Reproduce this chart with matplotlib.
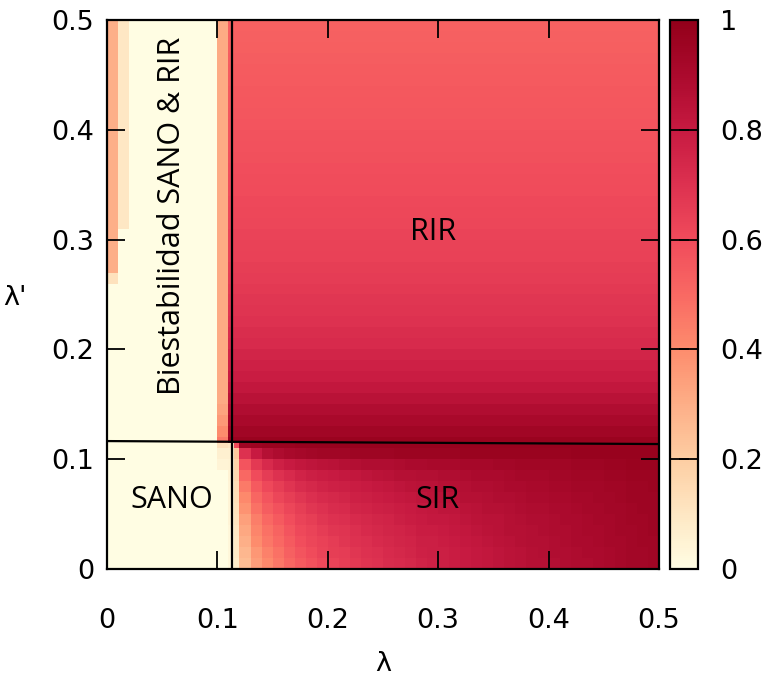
import numpy as np
import matplotlib
matplotlib.use("Agg")
import matplotlib.pyplot as plt
from matplotlib.colors import LinearSegmentedColormap

# --- rejilla de celdas (lambda, lambda') ---
x_edges = np.r_[np.arange(0, 12) * 0.01, 0.115, np.arange(12, 51) * 0.01]
y_edges = np.r_[np.arange(0, 12) * 0.01, 0.115, np.arange(12, 51) * 0.01]

# fondo SANO
sano_level = 0.0

# RIR: valor por fila (lambda' de 0.115 a 0.49), igual para toda lambda > 0.11
rir_by_row = [0.97, 0.94, 0.91, 0.88, 0.85, 0.82, 0.79, 0.77, 0.75, 0.73,
              0.715, 0.70, 0.69, 0.68, 0.67, 0.66, 0.65, 0.64, 0.635, 0.63,
              0.62, 0.615, 0.61, 0.60, 0.595, 0.59, 0.585, 0.58, 0.575, 0.57,
              0.565, 0.56, 0.555, 0.55, 0.545, 0.54, 0.535, 0.53, 0.525]

# SIR: filas lambda' = 0.00 ... 0.11 ; columnas lambda = 0.11, 0.115, 0.12 ... 0.49
sir_grid = [
    [0.03, 0.08, 0.25, 0.35, 0.41, 0.46, 0.51, 0.55, 0.58, 0.61, 0.63, 0.65, 0.67, 0.69, 0.70, 0.72, 0.73, 0.74, 0.76, 0.77,
     0.78, 0.79, 0.80, 0.81, 0.82, 0.83, 0.84, 0.85, 0.86, 0.86, 0.87, 0.88, 0.89, 0.89, 0.90, 0.91, 0.92, 0.93, 0.93, 0.94],
    [0.03, 0.09, 0.27, 0.37, 0.43, 0.48, 0.53, 0.57, 0.60, 0.63, 0.65, 0.66, 0.68, 0.70, 0.71, 0.73, 0.74, 0.75, 0.77, 0.78,
     0.78, 0.79, 0.80, 0.81, 0.82, 0.83, 0.84, 0.85, 0.86, 0.87, 0.88, 0.88, 0.89, 0.90, 0.90, 0.91, 0.92, 0.93, 0.93, 0.94],
    [0.03, 0.09, 0.30, 0.40, 0.46, 0.50, 0.55, 0.59, 0.62, 0.64, 0.66, 0.68, 0.70, 0.71, 0.73, 0.74, 0.75, 0.76, 0.78, 0.78,
     0.79, 0.80, 0.81, 0.82, 0.83, 0.84, 0.85, 0.86, 0.87, 0.87, 0.88, 0.89, 0.90, 0.90, 0.91, 0.92, 0.92, 0.93, 0.94, 0.94],
    [0.03, 0.10, 0.32, 0.42, 0.48, 0.52, 0.57, 0.61, 0.63, 0.66, 0.68, 0.69, 0.71, 0.73, 0.74, 0.75, 0.76, 0.77, 0.79, 0.79,
     0.80, 0.81, 0.82, 0.83, 0.84, 0.85, 0.86, 0.86, 0.87, 0.88, 0.89, 0.89, 0.90, 0.91, 0.91, 0.92, 0.93, 0.93, 0.94, 0.95],
    [0.04, 0.11, 0.34, 0.44, 0.50, 0.55, 0.59, 0.63, 0.65, 0.68, 0.70, 0.71, 0.73, 0.74, 0.75, 0.76, 0.78, 0.79, 0.80, 0.81,
     0.81, 0.82, 0.83, 0.84, 0.85, 0.85, 0.86, 0.87, 0.88, 0.88, 0.89, 0.90, 0.90, 0.91, 0.92, 0.92, 0.93, 0.94, 0.94, 0.95],
    [0.04, 0.12, 0.38, 0.48, 0.54, 0.58, 0.62, 0.65, 0.68, 0.70, 0.72, 0.73, 0.75, 0.76, 0.77, 0.78, 0.79, 0.80, 0.81, 0.82,
     0.83, 0.83, 0.84, 0.85, 0.86, 0.86, 0.87, 0.88, 0.89, 0.89, 0.90, 0.90, 0.91, 0.92, 0.92, 0.93, 0.93, 0.94, 0.95, 0.95],
    [0.04, 0.13, 0.41, 0.51, 0.57, 0.62, 0.65, 0.68, 0.71, 0.73, 0.74, 0.75, 0.77, 0.78, 0.79, 0.80, 0.81, 0.82, 0.83, 0.84,
     0.84, 0.85, 0.86, 0.86, 0.87, 0.88, 0.88, 0.89, 0.90, 0.90, 0.91, 0.91, 0.92, 0.92, 0.93, 0.93, 0.94, 0.95, 0.95, 0.95],
    [0.04, 0.14, 0.45, 0.55, 0.61, 0.65, 0.69, 0.72, 0.74, 0.76, 0.77, 0.78, 0.79, 0.80, 0.81, 0.82, 0.83, 0.84, 0.85, 0.85,
     0.86, 0.86, 0.87, 0.88, 0.88, 0.89, 0.90, 0.90, 0.91, 0.91, 0.92, 0.92, 0.93, 0.93, 0.93, 0.94, 0.94, 0.95, 0.95, 0.96],
    [0.05, 0.16, 0.50, 0.60, 0.66, 0.70, 0.73, 0.76, 0.78, 0.79, 0.80, 0.81, 0.82, 0.83, 0.84, 0.85, 0.86, 0.86, 0.87, 0.87,
     0.88, 0.88, 0.89, 0.90, 0.90, 0.90, 0.91, 0.92, 0.92, 0.92, 0.93, 0.93, 0.94, 0.94, 0.94, 0.95, 0.95, 0.96, 0.96, 0.96],
    [0.05, 0.18, 0.57, 0.67, 0.73, 0.77, 0.80, 0.82, 0.83, 0.84, 0.85, 0.86, 0.87, 0.88, 0.88, 0.88, 0.89, 0.90, 0.90, 0.91,
     0.91, 0.91, 0.92, 0.92, 0.92, 0.93, 0.93, 0.94, 0.94, 0.94, 0.94, 0.94, 0.95, 0.95, 0.95, 0.96, 0.96, 0.97, 0.97, 0.97],
    [0.06, 0.22, 0.70, 0.80, 0.86, 0.89, 0.91, 0.92, 0.93, 0.94, 0.94, 0.94, 0.95, 0.95, 0.95, 0.95, 0.96, 0.96, 0.96, 0.96,
     0.96, 0.96, 0.97, 0.97, 0.97, 0.97, 0.97, 0.97, 0.97, 0.97, 0.97, 0.97, 0.98, 0.98, 0.98, 0.98, 0.98, 0.98, 0.98, 0.98],
    [0.10, 0.60, 0.95, 0.96, 0.97, 0.97, 0.97, 0.98, 0.98, 0.98, 0.98, 0.98, 0.98, 0.98, 0.98, 0.98, 0.98, 0.98, 0.98, 0.98,
     0.98, 0.98, 0.98, 0.98, 0.98, 0.98, 0.98, 0.98, 0.98, 0.98, 0.98, 0.98, 0.98, 0.98, 0.98, 0.98, 0.98, 0.98, 0.98, 0.98],
]

# franjas de la zona biestable (columnas lambda = 0, 0.01 y 0.10)
col0_from_row = 27          # lambda' = 0.26
col0_values = [0.12] + [0.30] * 23
col1_from_row = 32          # lambda' = 0.31
col1_values = [0.10] * 19
col10_from_row = 9          # lambda' = 0.09
col10_values = [0.04, 0.06, 0.12, 0.45, 0.40, 0.36, 0.33] + [0.31] * 35

# fronteras dibujadas
lam_c = 0.1135
lamp_left, lamp_right = 0.1165, 0.1138

Z = np.full((len(y_edges) - 1, len(x_edges) - 1), sano_level)
Z[12:, 11:] = np.array(rir_by_row)[:, None]
Z[:12, 11:] = np.array(sir_grid)
Z[col0_from_row:, 0] = col0_values
Z[col1_from_row:, 1] = col1_values
Z[col10_from_row:, 10] = col10_values

cmap = LinearSegmentedColormap.from_list("sano_rir", [
    (0.0, "#fffde3"), (0.1, "#fee7c3"), (0.2, "#fdcda2"), (0.3, "#fdae87"),
    (0.4, "#fd8c6d"), (0.5, "#f96963"), (0.6, "#f04b5b"), (0.7, "#dd3150"),
    (0.8, "#c71a41"), (0.9, "#ab0a2d"), (1.0, "#93001a")])

plt.rcParams['font.family'] = 'DejaVu Sans'
fig = plt.figure(figsize=(7.62, 6.82), dpi=100)
ax = fig.add_axes([0.1404, 0.1657, 0.7244, 0.805])
cax = fig.add_axes([0.879, 0.1657, 0.037, 0.805])

mesh = ax.pcolormesh(x_edges, y_edges, Z, cmap=cmap, vmin=0, vmax=1, shading='flat')

ax.plot([lam_c, lam_c], [0, 0.5], color='black', lw=1.6)
ax.plot([0, 0.5], [lamp_left, lamp_right], color='black', lw=1.6)

ax.set_xlim(0, 0.5)
ax.set_ylim(0, 0.5)
ticks = [0, 0.1, 0.2, 0.3, 0.4, 0.5]
tick_labels = ["0", "0.1", "0.2", "0.3", "0.4", "0.5"]
ax.set_xticks(ticks)
ax.set_xticklabels(tick_labels)
ax.set_yticks(ticks)
ax.set_yticklabels(tick_labels)
ax.tick_params(direction='in', length=13, width=1.3, labelsize=19.5,
               top=True, right=True)
ax.tick_params(axis='x', pad=28)
ax.tick_params(axis='y', pad=9)
for s in ax.spines.values():
    s.set_linewidth(1.6)

ax.set_xlabel("λ", fontsize=19.5, labelpad=12)
ax.set_ylabel("λ'", fontsize=19.5, rotation=0, va='center', ha='center')
ax.yaxis.set_label_coords(-0.167, 0.494)

txt = dict(fontsize=22, family='Open Sans', ha='center', va='center')
ax.text(0.059, 0.063, "SANO", **txt)
ax.text(0.299, 0.063, "SIR", **txt)
ax.text(0.295, 0.307, "RIR", **txt)
ax.text(0.059, 0.322, "Biestabilidad SANO & RIR", rotation=90, **txt)

cb = fig.colorbar(mesh, cax=cax, ticks=[0, 0.2, 0.4, 0.6, 0.8, 1])
cb.ax.set_yticklabels(["0", "0.2", "0.4", "0.6", "0.8", "1"])
cb.ax.tick_params(direction='in', length=14, width=1.3, labelsize=19.5,
                  left=True, right=True, pad=16)
cb.outline.set_linewidth(1.6)

fig.savefig("out.png", dpi=100)
